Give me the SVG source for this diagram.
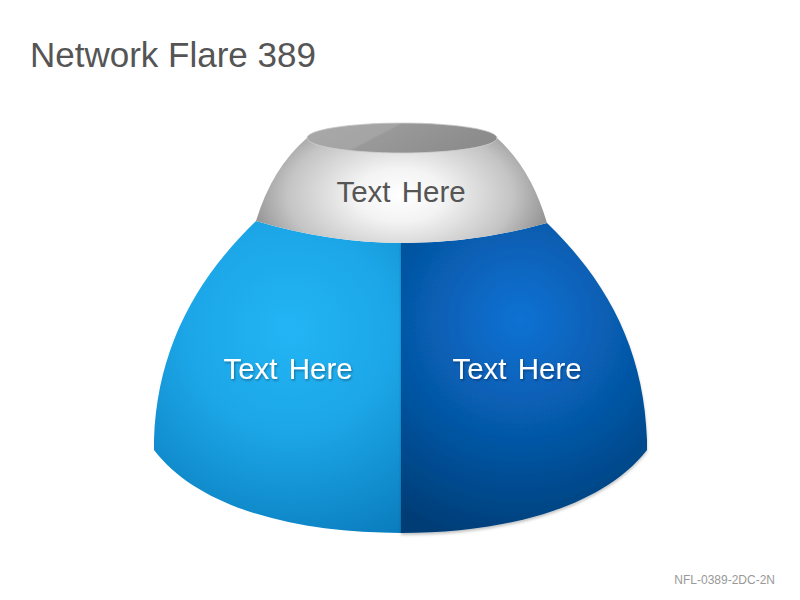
<svg xmlns="http://www.w3.org/2000/svg" width="800" height="600" viewBox="0 0 800 600">
<style>
.title{font-family:"Liberation Sans",Arial,sans-serif;font-size:35px;fill:#555555}
.lbl{font-family:"Liberation Sans",Arial,sans-serif;font-size:29.5px;word-spacing:3px;text-anchor:middle}
.dark{fill:#555555}
.light{fill:#ffffff;filter:url(#ts)}
.foot{font-family:"Liberation Sans",Arial,sans-serif;font-size:12px;fill:#999999;text-anchor:end}
</style>
<defs>
<radialGradient id="gCap" gradientUnits="userSpaceOnUse" cx="400" cy="195" r="150" gradientTransform="translate(400 195) scale(1 0.6) translate(-400 -195)">
<stop offset="0" stop-color="#ffffff"/>
<stop offset="0.3" stop-color="#f3f3f3"/>
<stop offset="0.75" stop-color="#c4c4c4"/>
<stop offset="1" stop-color="#959595"/>
</radialGradient>
<linearGradient id="gTop" x1="0" y1="0" x2="1" y2="0.3">
<stop offset="0" stop-color="#a9a9a9"/>
<stop offset="0.45" stop-color="#a4a4a4"/>
<stop offset="0.47" stop-color="#999999"/>
<stop offset="1" stop-color="#8c8c8c"/>
</linearGradient>
<radialGradient id="gLeft" gradientUnits="userSpaceOnUse" cx="290" cy="330" r="230">
<stop offset="0" stop-color="#22b5f5"/>
<stop offset="0.45" stop-color="#1ca6e7"/>
<stop offset="1" stop-color="#0a7cbd"/>
</radialGradient>
<radialGradient id="gRight" gradientUnits="userSpaceOnUse" cx="520" cy="320" r="230">
<stop offset="0" stop-color="#0a72d4"/>
<stop offset="0.5" stop-color="#0658a8"/>
<stop offset="1" stop-color="#033c74"/>
</radialGradient>
<filter id="ts" x="-10%" y="-20%" width="120%" height="150%">
<feDropShadow dx="1" dy="1.5" stdDeviation="1" flood-color="#000" flood-opacity="0.35"/>
</filter>
<filter id="sh" x="-10%" y="-10%" width="120%" height="120%">
<feDropShadow dx="0" dy="2" stdDeviation="1.5" flood-color="#000" flood-opacity="0.25"/>
</filter>
</defs>
<rect width="800" height="600" fill="#ffffff"/>
<text class="title" x="30" y="67">Network Flare 389</text>
<g id="node-left">
<path d="M401,243 L401,533 C300,533 200,510 154,450 L154,440 C157,350 195,280 256,221 Q328,242.5 401,243 Z" fill="url(#gLeft)"/>
<text class="lbl light" x="288" y="379">Text Here</text>
</g>
<g id="node-right">
<path d="M401,243 Q474,243.5 547,223 C608,282 644,350 647,440 L647,450 C600,510 500,533 401,533 Z" fill="url(#gRight)" filter="url(#sh)"/>
<text class="lbl light" x="517" y="379">Text Here</text>
</g>
<g id="node-top">
<path d="M307,138 Q272,168 256,221 Q400,264 547,223 Q531,168 497,138 A95,15 0 0 0 307,138 Z" fill="url(#gCap)"/>
<ellipse cx="402" cy="138" rx="95" ry="15" fill="url(#gTop)" stroke="#cfcfcf" stroke-width="0.8"/>
<text class="lbl dark" x="401" y="202">Text Here</text>
</g>
<text class="foot" x="775" y="584">NFL-0389-2DC-2N</text>
</svg>
